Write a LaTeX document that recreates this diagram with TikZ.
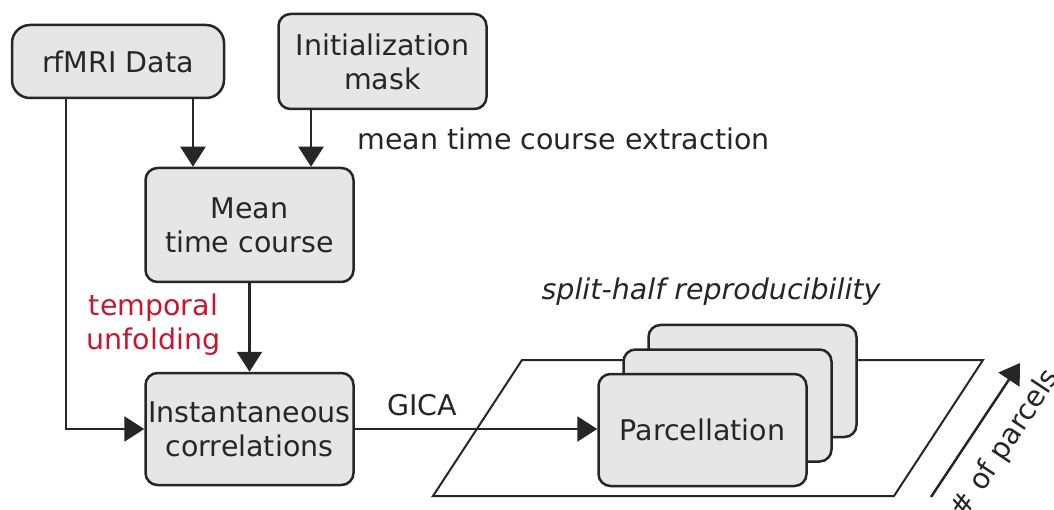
\documentclass[tikz,border=0pt]{standalone}
\usepackage{fontspec}
\setmainfont{DejaVu Sans}
\usetikzlibrary{arrows.meta}
\definecolor{boxgray}{RGB}{230,230,230}
\definecolor{linegray}{RGB}{38,38,38}
\definecolor{unfoldred}{RGB}{200,22,48}

\begin{document}
\begin{tikzpicture}[x=1pt,y=-1pt,
  every node/.style={font=\fontsize{28.5}{34}\selectfont, text=linegray, align=center},
  box/.style={draw=linegray, line width=2.5pt, fill=boxgray, rounded corners=12pt,
    inner sep=0pt, minimum width=208pt, minimum height=112pt},
  arr/.style={draw=linegray, line width=2.5pt, -{Triangle[length=20pt,width=25pt]}}]
%\draw [help lines] (0,0) grid (1054,510);
\useasboundingbox (0,0) rectangle (1054,510);

\node[box, rounded corners=18pt, minimum width=212pt, minimum height=73pt] (P0) at (118,61.5) {rfMRI Data};
\node[box, minimum height=95pt] (P1) at (382.5,61.5) {Initialization\\mask};
\node[box, minimum height=114pt] (P2) at (249.5,225) {Mean\\time course};
\node[box] (P3) at (249.5,429) {Instantaneous\\correlations};

% parcellation plane
\draw[linegray, line width=2pt] (433,496) -- (522,360) -- (983,360) -- (894,496) -- cycle;

% stacked parcellations
\node[box] (P4) at (752.5,381) {};
\node[box] (P5) at (727.5,405.5) {};
\node[box] (P6) at (702.5,430) {Parcellation};

% labels
\node (P7) at (563.5,139) {mean time course extraction};
\node[text=unfoldred] (P8) at (153.5,325) {temporal\\unfolding};
\node (P9) at (422,405) {GICA};
\node[font=\fontsize{28.5}{34}\selectfont\itshape] (P10) at (711,292) {split-half reproducibility};
\node[rotate=56.4, inner sep=0pt] (P11) at (1006,444) {\# of parcels};

\coordinate (A0) at (931,497);
\coordinate (A1) at (1020,363);

%rfMRI to mean time course
\draw[arr] ([xshift=75pt]P0.south) -- ([xshift=75pt]P0.south |- P2.north);

%mask to mean time course
\draw[arr] ([xshift=-71.5pt]P1.south) -- ([xshift=-71.5pt]P1.south |- P2.north);

% mean time course to correlations
\draw[arr] (P2) -- (P3);

% rfMRI to correlations
\draw[arr] ([xshift=-52pt]P0.south) |- (P3.west);

% GICA
\draw[arr] (P3.east) -- (P3.east -| P6.west);

% number of parcels
\draw[arr] (A0) -- (A1);

\end{tikzpicture}
\end{document}
